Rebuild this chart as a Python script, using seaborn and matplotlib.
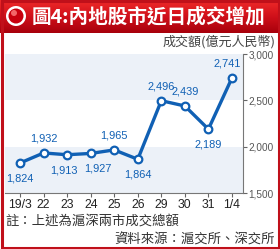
import numpy as np
import pandas as pd
import matplotlib
matplotlib.use("Agg")
import matplotlib.pyplot as plt
import seaborn as sns
from matplotlib.patches import Rectangle, Circle
from matplotlib.colors import LinearSegmentedColormap

dates = ["19/3", "22", "23", "24", "25", "26", "29", "30", "31", "1/4"]
turnover = [1824, 1932, 1913, 1927, 1965, 1864, 2496, 2439, 2189, 2741]
label_pos = ["below", "above", "below", "below", "above", "below", "above", "above", "below", "above"]
yticks = [1500, 2000, 2500, 3000]

title = "圖4:內地股市近日成交增加"
ylabel = "成交額(億元人民幣)"
note1 = "註：上述為滬深兩市成交總額"
note2 = "資料來源：滬交所、深交所"

# horizontal nudges of data labels (points), style only
label_dx = {2: -2.5, 3: 5, 9: -3.5}

sns.set_theme(style="white")
plt.rcParams['font.family'] = ['Noto Sans CJK TC', 'DejaVu Sans']

W, H = 280, 249
fig = plt.figure(figsize=(W / 100, H / 100), dpi=100)
fig.patch.set_facecolor("white")

blue = "#1060b4"
num_font = ["Liberation Sans", "DejaVu Sans"]

df = pd.DataFrame({"x": np.arange(len(dates)), "y": turnover})

ax = fig.add_axes([5 / W, (H - 193) / H, (243 - 5) / W, (193 - 54) / H])
ax.set_facecolor("white")
for lo, hi in [(1500, 2000), (2500, 3000)]:
    ax.axhspan(lo, hi, color="#ecf1f8", zorder=0, lw=0)

sns.lineplot(data=df, x="x", y="y", ax=ax, color=blue, lw=2.4, marker="o",
             markersize=5.5, markerfacecolor="white", markeredgecolor=blue,
             markeredgewidth=1.6, zorder=3)

for i, (v, p) in enumerate(zip(turnover, label_pos)):
    off = 6.5 if p == "above" else -7.5
    va = "bottom" if p == "above" else "top"
    ax.annotate(f"{v:,}", (i, v), xytext=(label_dx.get(i, 0), off), textcoords="offset points",
                ha="center", va=va, color=blue, fontsize=7.9, family=num_font)

ax.set_xlim(-0.64, 9.47)
ax.set_ylim(1500, 3000)
ax.set_xticks(range(len(dates)))
ax.set_xticklabels(dates, family=num_font, fontsize=8.8, color="#222")
ax.yaxis.tick_right()
ax.set_yticks(yticks)
ax.set_yticklabels([f"{t:,}" for t in yticks], family=num_font, fontsize=7.2, color="#555")
ax.tick_params(axis="x", direction="out", length=3, width=0.8, color="#666", pad=1.5, bottom=True)
ax.tick_params(axis="y", direction="out", length=3, width=0.8, color="#666", pad=1, right=True, left=False)
ax.set_xlabel("")
ax.set_ylabel("")
for s in ["top", "left"]:
    ax.spines[s].set_visible(False)
for s in ["right", "bottom"]:
    ax.spines[s].set_color("#777")
    ax.spines[s].set_linewidth(0.8)

# title bar
tax = fig.add_axes([0, (H - 33) / H, 1, 33 / H])
grad = np.linspace(0, 1, 64).reshape(-1, 1)
cmap = LinearSegmentedColormap.from_list("r", ["#ee2a2a", "#d0101a", "#a8000c"])
tax.imshow(grad, aspect="auto", cmap=cmap, extent=[0, W, 0, 33], origin="upper")
tax.set_xlim(0, W)
tax.set_ylim(0, 33)
tax.axis("off")
tax.add_patch(Circle((16, 17), 10, facecolor="white", edgecolor="none"))
tax.add_patch(Circle((16, 17), 7.5, facecolor="#c8000e", edgecolor="none"))
tax.add_patch(Circle((14, 20), 3.0, facecolor="#ff8080", edgecolor="none", alpha=0.8))
tax.text(32, 16.5, title, color="white", fontsize=14.1, fontweight="bold",
         ha="left", va="center", family=["Noto Sans CJK TC", "DejaVu Sans"])

fig.text(276 / W, (H - 42) / H, ylabel, ha="right", va="center", fontsize=9.4, color="#444")
fig.text(5 / W, (H - 222) / H, note1, ha="left", va="center", fontsize=9.6, color="#333")
fig.text(275 / W, (H - 240) / H, note2, ha="right", va="center", fontsize=9.6, color="#333")

# red frame
fig.patches.append(Rectangle((1.5 / W, 1.5 / H), (W - 3) / W, (H - 3) / H, transform=fig.transFigure,
                             fill=False, edgecolor="#c0101a", lw=2.2, zorder=10))

fig.savefig("out.png", dpi=100, facecolor="white")
